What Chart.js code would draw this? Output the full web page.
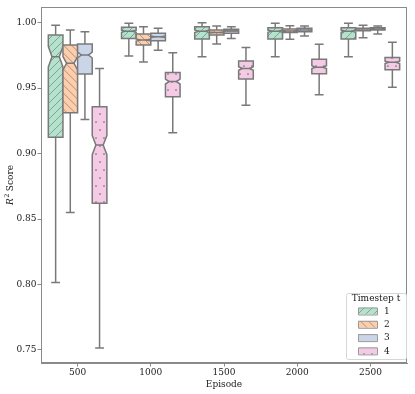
<!DOCTYPE html>
<html>
<head>
<meta charset="utf-8">
<script src="https://cdn.jsdelivr.net/npm/chart.js@4/dist/chart.umd.min.js"></script>
<style>
  html, body { margin: 0; padding: 0; background: #fff; }
</style>
</head>
<body>
<canvas id="box-chart" width="415" height="394"></canvas>
<script>
const episodes = ['500', '1000', '1500', '2000', '2500'];
const timesteps = ['1', '2', '3', '4'];
const yTicks = [0.75, 0.80, 0.85, 0.90, 0.95, 1.00];

// per episode: [whisker low, q1, median, q3, whisker high]
const t1 = [
  [0.8015, 0.9124, 0.9740, 0.9906, 0.9980],
  [0.9745, 0.9880, 0.9935, 0.9965, 0.9995],
  [0.9740, 0.9875, 0.9935, 0.9970, 1.0000],
  [0.9740, 0.9875, 0.9935, 0.9962, 0.9995],
  [0.9740, 0.9875, 0.9935, 0.9962, 0.9995]
];
const t2 = [
  [0.8550, 0.9312, 0.9690, 0.9830, 0.9944],
  [0.9700, 0.9830, 0.9868, 0.9914, 0.9970],
  [0.9837, 0.9906, 0.9926, 0.9944, 0.9975],
  [0.9873, 0.9926, 0.9937, 0.9952, 0.9977],
  [0.9885, 0.9939, 0.9945, 0.9957, 0.9980]
];
const t3 = [
  [0.9260, 0.9608, 0.9753, 0.9837, 0.9931],
  [0.9790, 0.9862, 0.9893, 0.9919, 0.9957],
  [0.9880, 0.9919, 0.9937, 0.9950, 0.9970],
  [0.9898, 0.9931, 0.9944, 0.9957, 0.9975],
  [0.9914, 0.9944, 0.9952, 0.9962, 0.9975]
];
const t4 = [
  [0.7515, 0.8620, 0.9065, 0.9358, 0.9650],
  [0.9160, 0.9434, 0.9550, 0.9620, 0.9770],
  [0.9370, 0.9570, 0.9650, 0.9707, 0.9810],
  [0.9450, 0.9610, 0.9660, 0.9720, 0.9835],
  [0.9506, 0.9640, 0.9697, 0.9735, 0.9850]
];
const series = [t1, t2, t3, t4];
const nSamples = 250; // used for the notch width, like matplotlib

const colors = ['#b3e2cd', '#fdcdac', '#cbd5e8', '#f4cae4'];
const hatches = ['/', '\\', '', '.'];
const lineColor = '#797979';
const spineColor = '#8a8a8a';
const font = 'DejaVu Serif';
const hatchStep = 8;

function drawHatch(ctx, kind, x0, y0, x1, y1) {
  ctx.save();
  ctx.strokeStyle = 'rgba(110,110,110,0.75)';
  ctx.fillStyle = 'rgba(100,100,100,0.9)';
  ctx.lineWidth = 0.8;
  if (kind === '/' || kind === '\\') {
    ctx.beginPath();
    const h = y1 - y0;
    const start = Math.floor((x0 - h - y0) / hatchStep) * hatchStep;
    for (let k = start; k < x1 + h + y1 + hatchStep; k += hatchStep) {
      if (kind === '/') {
        // x + y = k
        ctx.moveTo(k - y0, y0);
        ctx.lineTo(k - y1, y1);
      } else {
        // x - y = k - 2*y1 (shifted so both patterns share the same grid)
        const c = k - y1 - y0;
        ctx.moveTo(c + y0, y0);
        ctx.lineTo(c + y1, y1);
      }
    }
    ctx.stroke();
  } else if (kind === '.') {
    const r0 = Math.floor(y0 / hatchStep) - 1;
    for (let r = r0; r * hatchStep < y1 + hatchStep; r++) {
      const yy = r * hatchStep + 2;
      const off = (Math.abs(r) % 2 === 0) ? hatchStep / 2 : 0;
      for (let xx = Math.floor(x0 / hatchStep) * hatchStep - hatchStep + off; xx < x1 + hatchStep; xx += hatchStep) {
        ctx.beginPath();
        ctx.arc(xx, yy, 0.85, 0, Math.PI * 2);
        ctx.fill();
      }
    }
  }
  ctx.restore();
}

function boxPath(ctx, L, R, nL, nR, q1, q3, med, ciLo, ciHi) {
  ctx.beginPath();
  ctx.moveTo(L, q1); ctx.lineTo(R, q1); ctx.lineTo(R, ciLo); ctx.lineTo(nR, med);
  ctx.lineTo(R, ciHi); ctx.lineTo(R, q3); ctx.lineTo(L, q3); ctx.lineTo(L, ciHi);
  ctx.lineTo(nL, med); ctx.lineTo(L, ciLo); ctx.closePath();
}

function drawBox(ctx, yScale, cx, w, s, fill, hatch) {
  const px = v => yScale.getPixelForValue(v);
  const ci = 1.57 * (s[3] - s[1]) / Math.sqrt(nSamples);
  const lo = px(s[0]), q1 = px(s[1]), med = px(s[2]), q3 = px(s[3]), hi = px(s[4]);
  const ciLo = px(s[2] - ci), ciHi = px(s[2] + ci);
  const L = cx - w / 2, R = cx + w / 2, nL = cx - w / 4, nR = cx + w / 4;

  boxPath(ctx, L, R, nL, nR, q1, q3, med, ciLo, ciHi);
  ctx.fillStyle = fill;
  ctx.fill();
  if (hatch) {
    ctx.save();
    ctx.clip();
    drawHatch(ctx, hatch, L, q3, R, q1);
    ctx.restore();
  }
  boxPath(ctx, L, R, nL, nR, q1, q3, med, ciLo, ciHi);
  ctx.strokeStyle = lineColor;
  ctx.lineWidth = 1.5;
  ctx.lineJoin = 'miter';
  ctx.stroke();

  ctx.beginPath();
  ctx.lineCap = 'butt';
  ctx.moveTo(cx, q1); ctx.lineTo(cx, lo);
  ctx.moveTo(cx, q3); ctx.lineTo(cx, hi);
  ctx.stroke();
  ctx.beginPath();
  ctx.lineCap = 'square';
  ctx.moveTo(cx - w / 4, lo); ctx.lineTo(cx + w / 4, lo);
  ctx.moveTo(cx - w / 4, hi); ctx.lineTo(cx + w / 4, hi);
  ctx.moveTo(nL, med); ctx.lineTo(nR, med);
  ctx.stroke();
  ctx.lineCap = 'butt';
}

const boxPlugin = {
  id: 'boxes',
  afterDatasetsDraw(chart) {
    const ctx = chart.ctx;
    const yScale = chart.scales.y;
    const area = chart.chartArea;
    ctx.save();
    chart.data.datasets.forEach((ds, di) => {
      const meta = chart.getDatasetMeta(di);
      series[di].forEach((s, i) => {
        const bar = meta.data[i];
        drawBox(ctx, yScale, bar.x, bar.width, s, colors[di], hatches[di]);
      });
    });

    // spines
    ctx.strokeStyle = spineColor;
    ctx.lineWidth = 1;
    ctx.strokeRect(area.left + 0.5, area.top + 0.5, area.right - area.left - 1, area.bottom - area.top - 1);

    // legend
    const lx1 = area.right - 1, ly1 = area.bottom - 4;
    const lx0 = lx1 - 60, ly0 = ly1 - 66;
    ctx.beginPath();
    ctx.roundRect(lx0 + 0.5, ly0 + 0.5, lx1 - lx0, ly1 - ly0, 2);
    ctx.fillStyle = 'rgba(255,255,255,0.85)';
    ctx.fill();
    ctx.strokeStyle = '#d6d6d6';
    ctx.lineWidth = 1;
    ctx.stroke();
    ctx.fillStyle = '#1a1a1a';
    ctx.font = '9px "' + font + '"';
    ctx.textBaseline = 'middle';
    ctx.textAlign = 'center';
    ctx.fillText('Timestep t', (lx0 + lx1) / 2, ly0 + 5.5);
    ctx.textAlign = 'left';
    timesteps.forEach((t, i) => {
      const cy = ly0 + 18 + i * 13.3;
      const sx = lx0 + 12, sw = 19, sh = 7;
      ctx.beginPath();
      ctx.rect(sx, cy - sh / 2, sw, sh);
      ctx.fillStyle = colors[i];
      ctx.fill();
      if (hatches[i]) {
        ctx.save();
        ctx.clip();
        drawHatch(ctx, hatches[i], sx, cy - sh / 2, sx + sw, cy + sh / 2);
        ctx.restore();
      }
      ctx.beginPath();
      ctx.rect(sx + 0.5, cy - sh / 2 + 0.5, sw, sh);
      ctx.strokeStyle = '#9a9a9a';
      ctx.lineWidth = 1;
      ctx.stroke();
      ctx.fillStyle = '#1a1a1a';
      ctx.fillText(t, sx + sw + 7, cy + 0.5);
    });

    // y axis title: R^2 Score
    ctx.save();
    ctx.translate(10.5, (area.top + area.bottom) / 2);
    ctx.rotate(-Math.PI / 2);
    ctx.textAlign = 'left';
    ctx.textBaseline = 'middle';
    ctx.font = 'italic 9px "' + font + '"';
    const wR = ctx.measureText('R').width;
    ctx.font = '6.5px "' + font + '"';
    const w2 = ctx.measureText('2').width;
    ctx.font = '9px "' + font + '"';
    const wS = ctx.measureText(' Score').width;
    let x = -(wR + w2 + wS) / 2;
    ctx.fillStyle = '#1a1a1a';
    ctx.font = 'italic 9px "' + font + '"';
    ctx.fillText('R', x, 0);
    x += wR + 0.5;
    ctx.font = '6.5px "' + font + '"';
    ctx.fillText('2', x, -3.5);
    x += w2 - 0.5;
    ctx.font = '9px "' + font + '"';
    ctx.fillText(' Score', x, 0);
    ctx.restore();

    ctx.restore();
  }
};

new Chart(document.getElementById('box-chart'), {
  type: 'bar',
  data: {
    labels: episodes,
    datasets: timesteps.map((t, i) => ({
      label: t,
      data: series[i].map(s => [s[1], s[3]]),
      backgroundColor: 'rgba(0,0,0,0)',
      borderWidth: 0,
      categoryPercentage: 0.8,
      barPercentage: 1.0
    }))
  },
  options: {
    responsive: false,
    animation: false,
    devicePixelRatio: 1,
    layout: { padding: { top: 7, right: 8, left: 0, bottom: 0 } },
    plugins: {
      legend: { display: false },
      tooltip: { enabled: false },
      title: { display: false }
    },
    scales: {
      x: {
        grid: { display: true, drawOnChartArea: false, drawTicks: true, tickLength: 3.5, color: spineColor, offset: false },
        border: { display: true, color: spineColor, width: 1 },
        ticks: { color: '#1a1a1a', font: { family: font, size: 9 }, padding: 1, maxRotation: 0 },
        title: { display: true, text: 'Episode', color: '#1a1a1a', font: { family: font, size: 9 }, padding: { top: 0, bottom: 4 } },
        afterFit(scale) { scale.height = 31; }
      },
      y: {
        min: 0.740,
        max: 1.012,
        grid: { display: true, drawOnChartArea: false, drawTicks: true, tickLength: 3.5, color: spineColor },
        border: { display: true, color: spineColor, width: 1 },
        ticks: { color: '#1a1a1a', font: { family: font, size: 9 }, padding: 1, callback: v => Number(v).toFixed(2) },
        afterBuildTicks(scale) { scale.ticks = yTicks.map(v => ({ value: v })); },
        afterFit(scale) { scale.width = 41; }
      }
    }
  },
  plugins: [boxPlugin]
});
</script>
</body>
</html>
